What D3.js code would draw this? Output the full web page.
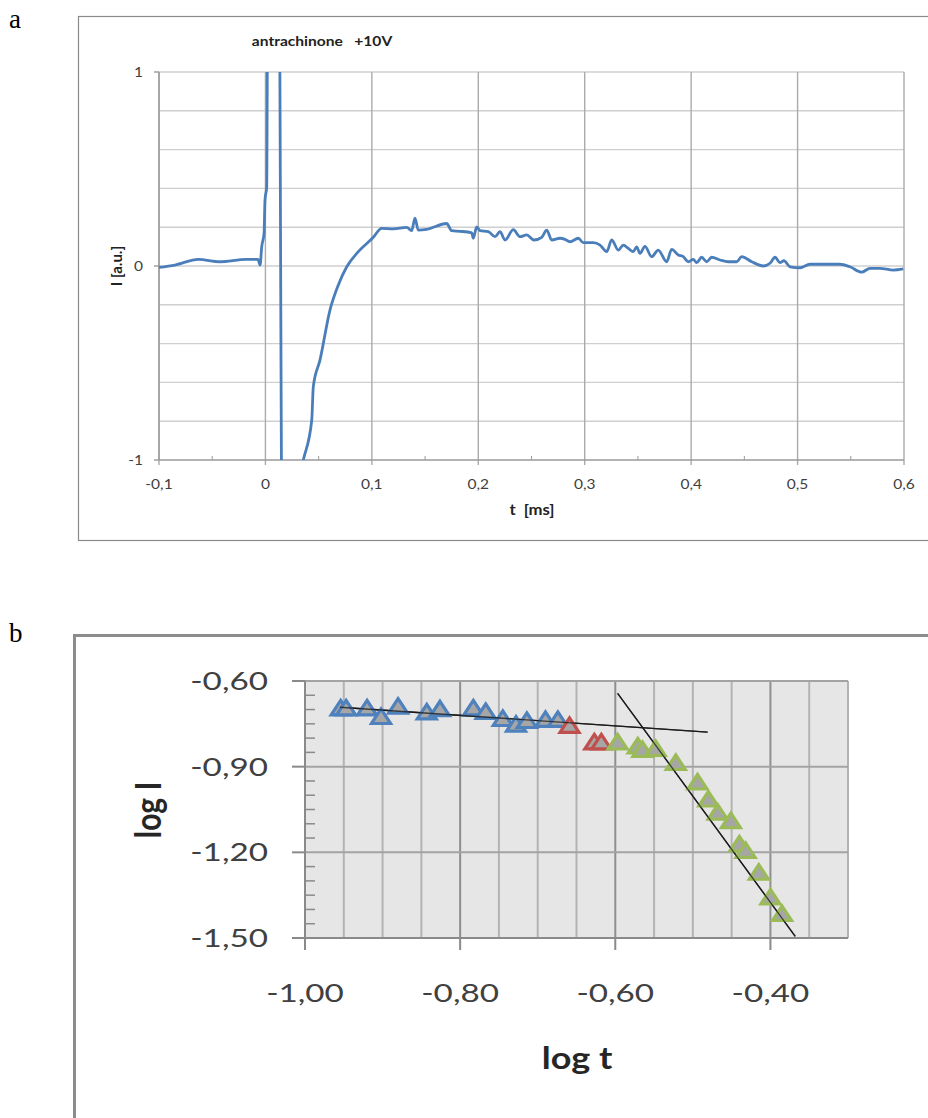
<!DOCTYPE html>
<html>
<head>
<meta charset="utf-8">
<script src="https://cdn.jsdelivr.net/npm/d3@7/dist/d3.min.js"></script>
<style>
body { margin: 0; background: #fff; }
text { white-space: pre; }
</style>
</head>
<body>
<div id="fig"></div>
<script>
// ---- panel a: transient current, antrachinone +10V ----
var tValues = [-0.100, -0.085, -0.063, -0.043, -0.018, -0.007, -0.005, -0.0035, -0.0013, -0.0004, 0.0012,
    0.0022, 0.0128, 0.0158, 0.0356, 0.0435, 0.045, 0.0513, 0.0607, 0.0685, 0.0764, 0.0858, 0.1014,
    0.1092, 0.1201, 0.1327, 0.1374, 0.1405, 0.1436, 0.1515, 0.1703, 0.1750, 0.1828, 0.1938, 0.1953,
    0.1985, 0.2016, 0.2094, 0.2157, 0.2204, 0.2251, 0.2329, 0.2392, 0.2455, 0.2523, 0.2596, 0.2643,
    0.2690, 0.2768, 0.2815, 0.2862, 0.2940, 0.2987, 0.3081, 0.3144, 0.3207, 0.3253, 0.3316, 0.3363,
    0.3409, 0.3456, 0.3488, 0.3519, 0.3566, 0.3629, 0.3691, 0.3770, 0.3817, 0.3879, 0.3926, 0.3973,
    0.4020, 0.4052, 0.4099, 0.4146, 0.4193, 0.4271, 0.4349, 0.4428, 0.4475, 0.4569, 0.4678, 0.4741,
    0.4788, 0.4835, 0.4872, 0.4929, 0.5023, 0.5116, 0.5398, 0.5492, 0.5602, 0.5680, 0.5774, 0.5899, 0.5993];
var iValues = [-0.007, 0.005, 0.034, 0.022, 0.034, 0.034, 0.005, 0.099, 0.168, 0.340, 0.408,
    1.5, 1.5, -1.5, -1.0, -0.795, -0.621, -0.484, -0.226, -0.098, -0.004, 0.065, 0.148,
    0.194, 0.191, 0.199, 0.182, 0.247, 0.185, 0.189, 0.219, 0.182, 0.179, 0.171, 0.143,
    0.202, 0.182, 0.177, 0.151, 0.177, 0.134, 0.187, 0.151, 0.160, 0.134, 0.148, 0.185,
    0.134, 0.143, 0.137, 0.125, 0.143, 0.120, 0.120, 0.108, 0.074, 0.134, 0.082, 0.108,
    0.091, 0.074, 0.099, 0.065, 0.101, 0.048, 0.082, 0.022, 0.086, 0.057, 0.048, 0.022,
    0.034, 0.017, 0.045, 0.022, 0.045, 0.031, 0.022, 0.022, 0.048, 0.022, 0.000, 0.014,
    0.045, 0.017, 0.027, -0.004, -0.009, 0.009, 0.009, -0.004, -0.032, -0.012, -0.012, -0.021, -0.015];
var tTicks = [-0.1, 0, 0.1, 0.2, 0.3, 0.4, 0.5, 0.6];
var tTickLabels = ["-0,1", "0", "0,1", "0,2", "0,3", "0,4", "0,5", "0,6"];
var iTicks = [-1, 0, 1];
var iTickLabels = ["-1", "0", "1"];

// ---- panel b: log I vs log t ----
var blueLogT = [-0.954, -0.947, -0.920, -0.902, -0.880, -0.843, -0.826, -0.783, -0.767, -0.745, -0.728, -0.714, -0.690, -0.674];
var blueLogI = [-0.696, -0.696, -0.696, -0.726, -0.690, -0.710, -0.699, -0.696, -0.708, -0.733, -0.753, -0.740, -0.736, -0.736];
var redLogT = [-0.659, -0.627, -0.618];
var redLogI = [-0.757, -0.815, -0.815];
var greenLogT = [-0.597, -0.571, -0.565, -0.548, -0.522, -0.494, -0.480, -0.468, -0.451, -0.440, -0.432, -0.415, -0.400, -0.385];
var greenLogI = [-0.815, -0.829, -0.841, -0.838, -0.887, -0.955, -1.015, -1.061, -1.091, -1.172, -1.195, -1.271, -1.358, -1.416];
var fitFlatT = [-0.955, -0.481];
var fitFlatI = [-0.692, -0.779];
var fitSteepT = [-0.597, -0.368];
var fitSteepI = [-0.643, -1.494];
var logTTicks = [-1.0, -0.8, -0.6, -0.4];
var logTTickLabels = ["-1,00", "-0,80", "-0,60", "-0,40"];
var logITicks = [-0.6, -0.9, -1.2, -1.5];
var logITickLabels = ["-0,60", "-0,90", "-1,20", "-1,50"];

var W = 928, H = 1118;
var font = "Lato, 'Open Sans', sans-serif";

var svg = d3.select("#fig").append("svg")
    .attr("width", W)
    .attr("height", H);

// the source figure is stretched sideways, so text gets a horizontal scale
function txt(g, x, y, s, o) {
    o = o || {};
    var hs = o.hs || 1.4;
    var tr = "translate(" + x + "," + y + ") scale(" + hs + ",1)" + (o.rot ? " rotate(-90)" : "");
    return g.append("text")
        .attr("transform", tr)
        .attr("text-anchor", o.anchor || "middle")
        .attr("dy", o.dy || 0)
        .attr("font-family", o.family || font)
        .attr("font-size", o.size || 12)
        .attr("font-weight", o.bold ? "bold" : "normal")
        .attr("fill", o.color || "#404040")
        .text(s);
}

// panel letters
svg.append("text").attr("x", 9).attr("y", 28)
    .attr("font-family", "'Liberation Serif', serif").attr("font-size", 27).text("a");
svg.append("text").attr("x", 9).attr("y", 642)
    .attr("font-family", "'Liberation Serif', serif").attr("font-size", 27).text("b");

// ================= panel a =================
var ga = svg.append("g");
ga.append("rect")
    .attr("x", 78.5).attr("y", 16.5)
    .attr("width", 900).attr("height", 524)
    .attr("fill", "none").attr("stroke", "#8a8a8a").attr("stroke-width", 1.2);

var xa = d3.scaleLinear().domain([-0.1, 0.6]).range([159, 904]);
var ya = d3.scaleLinear().domain([-1, 1]).range([460, 72]);

// horizontal grid every 0.2
ga.selectAll(".hg").data(d3.range(-8, 11, 2).map(function(d){ return d / 10; }))
    .enter().append("line")
    .attr("x1", xa(-0.1)).attr("x2", xa(0.6))
    .attr("y1", function(d){ return ya(d); })
    .attr("y2", function(d){ return ya(d); })
    .attr("stroke", "#cfcfcf").attr("stroke-width", 1.4);
// vertical grid every 0.1, running past the axis as tick marks
ga.selectAll(".vg").data(tTicks)
    .enter().append("line")
    .attr("x1", function(d){ return xa(d); })
    .attr("x2", function(d){ return xa(d); })
    .attr("y1", ya(1)).attr("y2", ya(-1) + 5)
    .attr("stroke", "#ababab").attr("stroke-width", 1.4);
// minor x ticks (inside)
ga.selectAll(".mt").data(d3.range(-0.05, 0.6, 0.1))
    .enter().append("line")
    .attr("x1", function(d){ return xa(d); })
    .attr("x2", function(d){ return xa(d); })
    .attr("y1", ya(-1) - 4).attr("y2", ya(-1))
    .attr("stroke", "#9a9a9a").attr("stroke-width", 1);
// axes
ga.append("line").attr("x1", xa(-0.1)).attr("x2", xa(0.6))
    .attr("y1", ya(-1)).attr("y2", ya(-1))
    .attr("stroke", "#9a9a9a").attr("stroke-width", 1.4);
ga.append("line").attr("x1", xa(-0.1)).attr("x2", xa(-0.1))
    .attr("y1", ya(1)).attr("y2", ya(-1))
    .attr("stroke", "#9a9a9a").attr("stroke-width", 1.4);
ga.selectAll(".yt").data(iTicks)
    .enter().append("line")
    .attr("x1", xa(-0.1) - 5).attr("x2", xa(-0.1))
    .attr("y1", function(d){ return ya(d); })
    .attr("y2", function(d){ return ya(d); })
    .attr("stroke", "#9a9a9a").attr("stroke-width", 1.4);

ga.append("clipPath").attr("id", "clipA").append("rect")
    .attr("x", xa(-0.1)).attr("y", ya(1))
    .attr("width", xa(0.6) - xa(-0.1)).attr("height", ya(-1) - ya(1));

var curve = tValues.map(function(t, i){ return [t, iValues[i]]; });
ga.append("path")
    .datum(curve)
    .attr("clip-path", "url(#clipA)")
    .attr("fill", "none")
    .attr("stroke", "#4a7ebb")
    .attr("stroke-width", 2.8)
    .attr("stroke-linejoin", "round")
    .attr("d", d3.line()
        .x(function(d){ return xa(d[0]); })
        .y(function(d){ return ya(d[1]); })
        .curve(d3.curveMonotoneX));

tTicks.forEach(function(t, i){
    txt(ga, xa(t), 489, tTickLabels[i], {size: 13.5, hs: 1.15});
});
iTicks.forEach(function(v, i){
    txt(ga, 143, ya(v), iTickLabels[i], {size: 13.5, hs: 1.15, anchor: "end", dy: "0.36em"});
});
txt(ga, 322, 46, "antrachinone   +10V", {size: 13, hs: 1.2, bold: true, color: "#222"});
txt(ga, 532, 515, "t  [ms]", {size: 14.5, hs: 1.15, bold: true, color: "#222"});
txt(ga, 122, 266, "I [a.u.]", {size: 15, hs: 1, bold: true, rot: true, color: "#222"});

// ================= panel b =================
var gb = svg.append("g");
gb.append("rect")
    .attr("x", 74.5).attr("y", 635.5)
    .attr("width", 900).attr("height", 600)
    .attr("fill", "none").attr("stroke", "#8c8c8c").attr("stroke-width", 3);

var xb = d3.scaleLinear().domain([-1.0, -0.3]).range([305, 848]);
var yb = d3.scaleLinear().domain([-1.5, -0.6]).range([938, 681]);

gb.append("rect")
    .attr("x", xb(-1.0)).attr("y", yb(-0.6))
    .attr("width", xb(-0.3) - xb(-1.0)).attr("height", yb(-1.5) - yb(-0.6))
    .attr("fill", "#e6e6e6");

// vertical grid every 0.05
var vgrid = d3.range(1, 15).map(function(k){ return -1.0 + k * 0.05; });
gb.selectAll(".vg").data(vgrid)
    .enter().append("line")
    .attr("x1", function(d){ return xb(d); })
    .attr("x2", function(d){ return xb(d); })
    .attr("y1", yb(-0.6)).attr("y2", yb(-1.5))
    .attr("stroke", function(d, i){ return (i + 1) % 4 === 0 ? "#8f8f8f" : "#b3b3b3"; })
    .attr("stroke-width", 2);
// horizontal grid every 0.3
gb.selectAll(".hg").data([-0.6, -0.9, -1.2])
    .enter().append("line")
    .attr("x1", xb(-1.0)).attr("x2", xb(-0.3))
    .attr("y1", function(d){ return yb(d); })
    .attr("y2", function(d){ return yb(d); })
    .attr("stroke", "#a3a3a3").attr("stroke-width", 2);

// axes with ticks
gb.append("line").attr("x1", xb(-1.0)).attr("x2", xb(-1.0))
    .attr("y1", yb(-0.6)).attr("y2", yb(-1.5))
    .attr("stroke", "#8a8a8a").attr("stroke-width", 2);
gb.append("line").attr("x1", xb(-1.0)).attr("x2", xb(-0.3))
    .attr("y1", yb(-1.5)).attr("y2", yb(-1.5))
    .attr("stroke", "#8a8a8a").attr("stroke-width", 2);
gb.selectAll(".yt").data(logITicks)
    .enter().append("line")
    .attr("x1", xb(-1.0) - 13).attr("x2", xb(-1.0))
    .attr("y1", function(d){ return yb(d); })
    .attr("y2", function(d){ return yb(d); })
    .attr("stroke", "#8a8a8a").attr("stroke-width", 2);
var yminor = d3.range(1, 18).map(function(k){ return -0.6 - k * 0.05; })
    .filter(function(d, i){ return (i + 1) % 6 !== 0; });
gb.selectAll(".ym").data(yminor)
    .enter().append("line")
    .attr("x1", xb(-1.0)).attr("x2", xb(-1.0) + 10)
    .attr("y1", function(d){ return yb(d); })
    .attr("y2", function(d){ return yb(d); })
    .attr("stroke", "#8a8a8a").attr("stroke-width", 1.5);
gb.selectAll(".xt").data(logTTicks)
    .enter().append("line")
    .attr("x1", function(d){ return xb(d); })
    .attr("x2", function(d){ return xb(d); })
    .attr("y1", yb(-1.5)).attr("y2", yb(-1.5) + 12)
    .attr("stroke", "#8a8a8a").attr("stroke-width", 2);

// trend line under the markers
function trend(ts, is, op) {
    gb.append("line")
        .attr("x1", xb(ts[0])).attr("y1", yb(is[0]))
        .attr("x2", xb(ts[1])).attr("y2", yb(is[1]))
        .attr("stroke", "#1a1a1a").attr("stroke-width", 1.3)
        .attr("opacity", op);
}
trend(fitFlatT, fitFlatI, 1);
trend(fitSteepT, fitSteepI, 1);

// triangle markers
var tri = "M0,-8L9.5,6.5L-9.5,6.5Z";
function markers(xs, ys, col) {
    gb.append("g").selectAll("path")
        .data(xs.map(function(x, i){ return [x, ys[i]]; }))
        .enter().append("path")
        .attr("d", tri)
        .attr("transform", function(d){ return "translate(" + xb(d[0]) + "," + yb(d[1]) + ")"; })
        .attr("fill", "#a6a6a6")
        .attr("stroke", col)
        .attr("stroke-width", 3.2)
        .attr("stroke-linejoin", "miter");
}
markers(blueLogT, blueLogI, "#4f81bd");
markers(redLogT, redLogI, "#c0504d");
markers(greenLogT, greenLogI, "#9bbb59");

// the fits show through the markers in the source
trend(fitFlatT, fitFlatI, 0.75);
trend(fitSteepT, fitSteepI, 0.75);

logITicks.forEach(function(v, i){
    txt(gb, 268, yb(v), logITickLabels[i], {size: 25, hs: 1.33, anchor: "end", dy: "0.36em"});
});
logTTicks.forEach(function(v, i){
    txt(gb, xb(v), 1002, logTTickLabels[i], {size: 25, hs: 1.33});
});
txt(gb, 577, 1069, "log t", {size: 30, hs: 1.2, bold: true, color: "#262626"});
txt(gb, 161, 810, "log I", {size: 30, hs: 1.2, bold: true, rot: true, color: "#262626"});
</script>
</body>
</html>
